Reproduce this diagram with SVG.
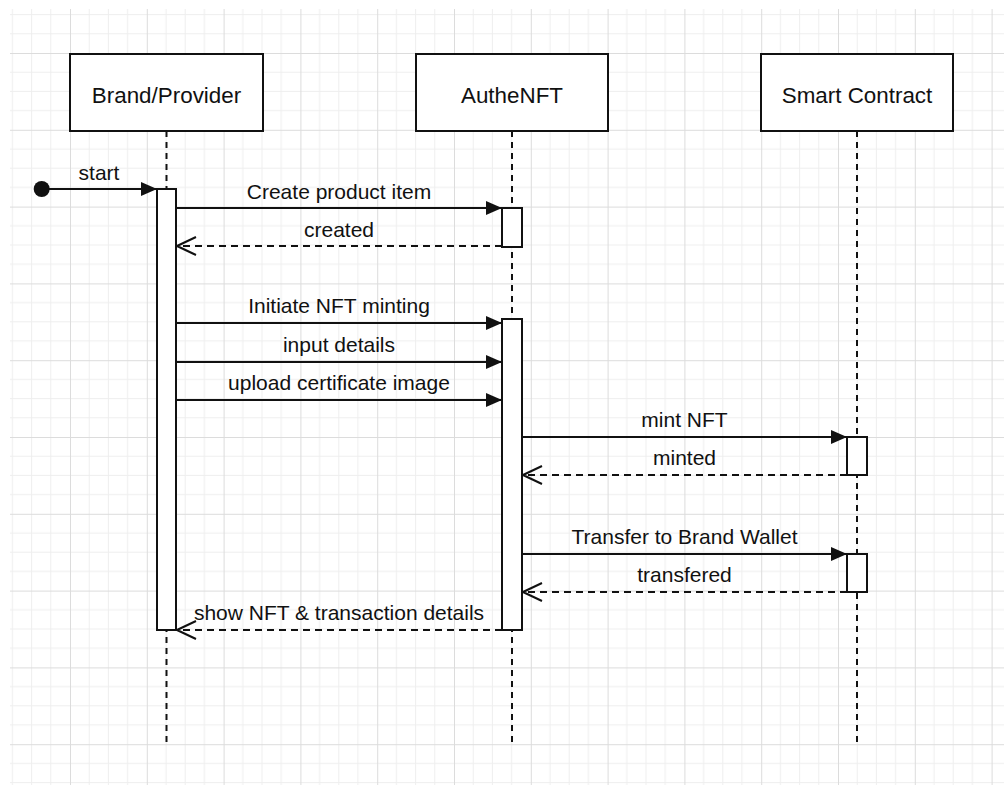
<svg xmlns="http://www.w3.org/2000/svg" width="1004" height="785" viewBox="0 0 1004 785">
  <style>
    .box { fill: #ffffff; stroke: #111111; stroke-width: 2; }
    .act { fill: #ffffff; stroke: #111111; stroke-width: 2; }
    .life { stroke: #111111; stroke-width: 2; stroke-dasharray: 6 5; fill: none; }
    .msg { stroke: #111111; stroke-width: 2; fill: none; }
    .ret { stroke: #111111; stroke-width: 2; fill: none; stroke-dasharray: 7 5; }
    .hdr { font-family: "Liberation Sans", Arial, sans-serif; font-size: 22.4px; fill: #111111; text-anchor: middle; }
    .lbl { font-family: "Liberation Sans", Arial, sans-serif; font-size: 21px; fill: #111111; text-anchor: middle; }
  </style>
  <defs>
    <pattern id="grid" patternUnits="userSpaceOnUse" x="-6.8" y="-23.8" width="76.8" height="76.8">
      <path d="M19.2 0V76.8M38.4 0V76.8M57.6 0V76.8M0 19.2H76.8M0 38.4H76.8M0 57.6H76.8" stroke="#eeeeee" stroke-width="1" fill="none"/>
      <path d="M0.5 0V76.8M0 0.5H76.8" stroke="#dcdcdc" stroke-width="1" fill="none"/>
    </pattern>
    <marker id="block" markerUnits="userSpaceOnUse" viewBox="-17 -8 18 16" refX="0" refY="0" markerWidth="18" markerHeight="16" orient="auto">
      <path d="M-16,-7 L0,0 L-16,7 Z" fill="#111111" stroke="none"/>
    </marker>
    <marker id="open" markerUnits="userSpaceOnUse" viewBox="-21 -11 23 22" refX="0" refY="0" markerWidth="23" markerHeight="22" orient="auto">
      <path d="M-19,-9 L0,0 L-19,9" fill="none" stroke="#111111" stroke-width="2" stroke-dasharray="none"/>
    </marker>
  </defs>

  <rect x="0" y="0" width="1004" height="785" fill="#ffffff"/>
  <rect x="10" y="9" width="994" height="776" fill="url(#grid)"/>

  <g id="lifelines">
    <line class="life" x1="166.5" y1="131" x2="166.5" y2="746"/>
    <line class="life" x1="512" y1="131" x2="512" y2="746"/>
    <line class="life" x1="857" y1="131" x2="857" y2="746"/>
  </g>

  <g id="brand-provider">
    <rect class="box" x="70" y="54" width="193" height="77"/>
    <text class="hdr" x="166.5" y="103">Brand/Provider</text>
    <rect class="act" x="157" y="189" width="19" height="441"/>
  </g>

  <g id="authenft">
    <rect class="box" x="416" y="54" width="192" height="77"/>
    <text class="hdr" x="512" y="103">AutheNFT</text>
    <rect class="act" x="502" y="208" width="20" height="39"/>
    <rect class="act" x="502" y="319" width="20" height="311"/>
  </g>

  <g id="smart-contract">
    <rect class="box" x="761" y="54" width="192" height="77"/>
    <text class="hdr" x="857" y="103">Smart Contract</text>
    <rect class="act" x="847" y="437" width="20" height="38"/>
    <rect class="act" x="847" y="554" width="20" height="38"/>
  </g>

  <g id="start-node">
    <circle cx="41.7" cy="189" r="8" fill="#111111"/>
  </g>

  <g id="connectors">
    <line class="msg" x1="42" y1="189" x2="157" y2="189" marker-end="url(#block)"/>
    <line class="msg" x1="176" y1="208" x2="502" y2="208" marker-end="url(#block)"/>
    <line class="ret" x1="502" y1="246" x2="177" y2="246" marker-end="url(#open)"/>
    <line class="msg" x1="176" y1="323" x2="502" y2="323" marker-end="url(#block)"/>
    <line class="msg" x1="176" y1="362" x2="502" y2="362" marker-end="url(#block)"/>
    <line class="msg" x1="176" y1="400" x2="502" y2="400" marker-end="url(#block)"/>
    <line class="msg" x1="522" y1="437" x2="847" y2="437" marker-end="url(#block)"/>
    <line class="ret" x1="847" y1="475" x2="523" y2="475" marker-end="url(#open)"/>
    <line class="msg" x1="522" y1="554" x2="847" y2="554" marker-end="url(#block)"/>
    <line class="ret" x1="847" y1="592" x2="523" y2="592" marker-end="url(#open)"/>
    <line class="ret" x1="502" y1="630" x2="177" y2="630" marker-end="url(#open)"/>
  </g>

  <g id="labels">
    <text class="lbl" x="99" y="180">start</text>
    <text class="lbl" x="339" y="199">Create product item</text>
    <text class="lbl" x="339" y="237">created</text>
    <text class="lbl" x="339" y="313">Initiate NFT minting</text>
    <text class="lbl" x="339" y="352">input details</text>
    <text class="lbl" x="339" y="390">upload certificate image</text>
    <text class="lbl" x="684.5" y="427">mint NFT</text>
    <text class="lbl" x="684.5" y="465">minted</text>
    <text class="lbl" x="684.5" y="544">Transfer to Brand Wallet</text>
    <text class="lbl" x="684.5" y="582">transfered</text>
    <text class="lbl" x="339" y="620">show NFT &amp; transaction details</text>
  </g>
</svg>
